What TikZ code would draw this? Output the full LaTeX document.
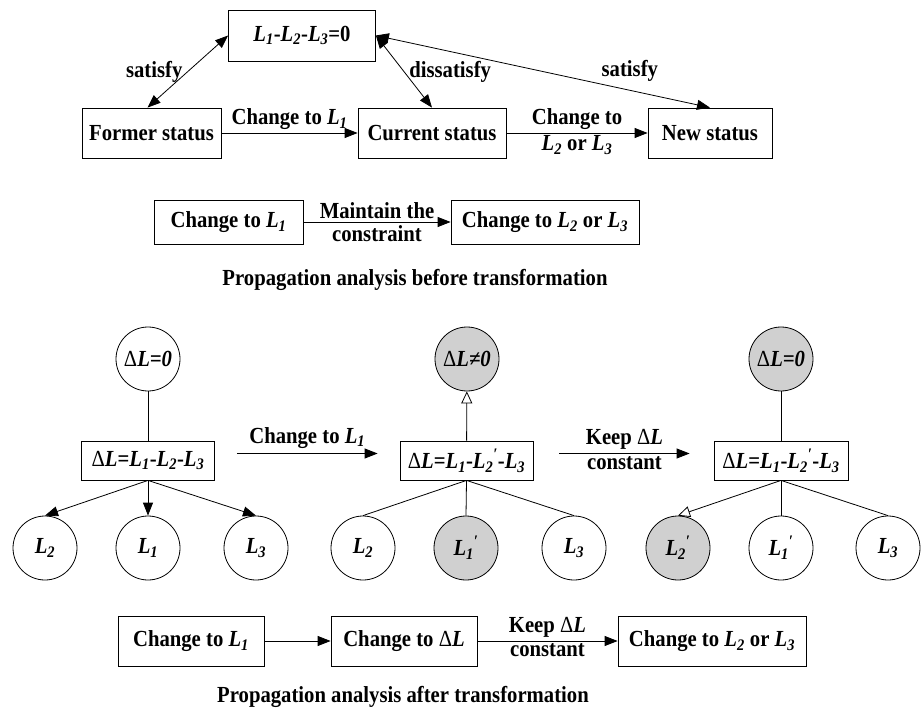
\documentclass[tikz,border=0pt]{standalone}
\usepackage{fontspec}
\setmainfont{Liberation Serif}[FakeStretch=0.9]
\usetikzlibrary{arrows.meta,calc}
\definecolor{shade}{RGB}{208,208,208}
% bold-italic variable with subscript, optional prime
\newcommand\Lv[1]{\textit{L}\textsubscript{\textit{#1}}}
\newcommand\Lq[1]{\textit{L}\textsubscript{\textit{#1}}\textsuperscript{\textit{′}}}
\newcommand\dL{{\mdseries Δ}\textit{L}}
\begin{document}
\begin{tikzpicture}[x=1pt,y=-1pt,
  font=\fontsize{23}{25}\selectfont\bfseries,
  every path/.style={line width=0.8pt},
  box/.style={draw, rectangle, inner sep=0pt, minimum height=50pt},
  circ/.style={draw, circle, inner sep=0pt, minimum size=64pt},
  shaded/.style={fill=shade},
  arr/.style={-{Triangle[length=13pt,width=10pt]}},
  darr/.style={{Triangle[length=13pt,width=10pt]}-{Triangle[length=13pt,width=10pt]}},
  oarr/.style={-{Triangle[open,length=12pt,width=11pt]}},
  lab/.style={inner sep=1pt}]
\path[use as bounding box, fill=white] (0,0) rectangle (923,708);

% ---- constraint and the three states ----
\node[box, minimum width=147pt, minimum height=51pt] (cons) at (302,35.5) {\Lv1-\Lv2-\Lv3=0};
\node[box, minimum width=139pt] (former) at (151.5,133) {Former status};
\node[box, minimum width=148pt] (current) at (432,133) {Current status};
\node[box, minimum width=124pt] (new) at (710,133) {New status};

\draw[darr] ([xshift=-4pt]former.north) -- (cons.west) node[midway, left=4pt, lab] {satisfy};
\draw[darr] (cons.east) -- (current.north) node[midway, right=4pt, lab] {dissatisfy};
\draw[darr] (cons.east) -- (new.north) node[pos=0.76, above=7pt, lab] {satisfy};
\draw[arr] (former) -- (current) node[midway, above=2pt, lab] {Change to \Lv1};
\draw[arr] (current) -- (new) node[midway, above=2pt, lab] {Change to}
  node[midway, below=1pt, lab] {\Lv2 or \Lv3};

% ---- propagation before transformation ----
\node[box, minimum width=149pt, minimum height=44pt] (pa) at (228.5,222) {Change to \Lv1};
\node[box, minimum width=188pt, minimum height=44pt] (pb) at (545,222) {Change to \Lv2 or \Lv3};
\draw[arr] (pa) -- (pb) node[midway, above=2pt, lab] {Maintain the}
  node[midway, below=2pt, lab] {constraint};
\node (capa) at (415,280) {Propagation analysis before transformation};

% ---- three constraint trees ----
\node[circ] (ta) at (148,359) {\dL\textit{=0}};
\node[box, minimum width=133pt, minimum height=39pt] (ba) at (148,460.5) {\dL=\Lv1-\Lv2-\Lv3};
\node[circ] (la2) at (45,548) {\Lv2};
\node[circ] (la1) at (148,548) {\Lv1};
\node[circ] (la3) at (256,548) {\Lv3};
\draw (ta) -- (ba);
\draw[arr] (ba.south) -- (la2.north);
\draw[arr] (ba.south) -- (la1.north);
\draw[arr] (ba.south) -- (la3.north);

\node[circ, shaded] (tb) at (467,359) {\dL\textit{≠0}};
\node[box, minimum width=133pt, minimum height=39pt] (bb) at (466.5,460.5) {\dL=\Lv1-\Lq2-\Lv3};
\node[circ] (lb2) at (363,548) {\Lv2};
\node[circ, shaded] (lb1) at (466,548) {\Lq1};
\node[circ] (lb3) at (574,548) {\Lv3};
\draw[oarr] (bb) -- (tb);
\draw (bb.south) -- (lb2.north);
\draw (bb.south) -- (lb1.north);
\draw (bb.south) -- (lb3.north);

\node[circ, shaded] (tc) at (781,359) {\dL\textit{=0}};
\node[box, minimum width=134pt, minimum height=39pt] (bc) at (781,460.5) {\dL=\Lv1-\Lq2-\Lv3};
\node[circ, shaded] (lc2) at (678,548) {\Lq2};
\node[circ] (lc1) at (781,548) {\Lq1};
\node[circ] (lc3) at (888,548) {\Lv3};
\draw (tc) -- (bc);
\draw[oarr] (bc.south) -- (lc2.north);
\draw (bc.south) -- (lc1.north);
\draw (bc.south) -- (lc3.north);

\draw[arr] ($(ba.east)+(22,-7)$) -- ($(bb.west)+(-22,-7)$)
  node[midway, above=4pt, lab] {Change to \Lv1};
\draw[arr] ($(bb.east)+(26,-7)$) -- ($(bc.west)+(-24,-7)$)
  node[midway, above=3pt, lab] {Keep \dL}
  node[midway, below=2pt, lab] {constant};

% ---- propagation after transformation ----
\node[box, minimum width=146pt] (qa) at (191,641) {Change to \Lv1};
\node[box, minimum width=146pt] (qb) at (404,641) {Change to \dL};
\node[box, minimum width=188pt] (qc) at (712,641) {Change to \Lv2 or \Lv3};
\draw[arr] (qa) -- (qb);
\draw[arr] (qb) -- (qc) node[midway, above=2pt, lab] {Keep \dL}
  node[midway, below=1pt, lab] {constant};
\node (capb) at (403,697) {Propagation analysis after transformation};
\end{tikzpicture}
\end{document}
